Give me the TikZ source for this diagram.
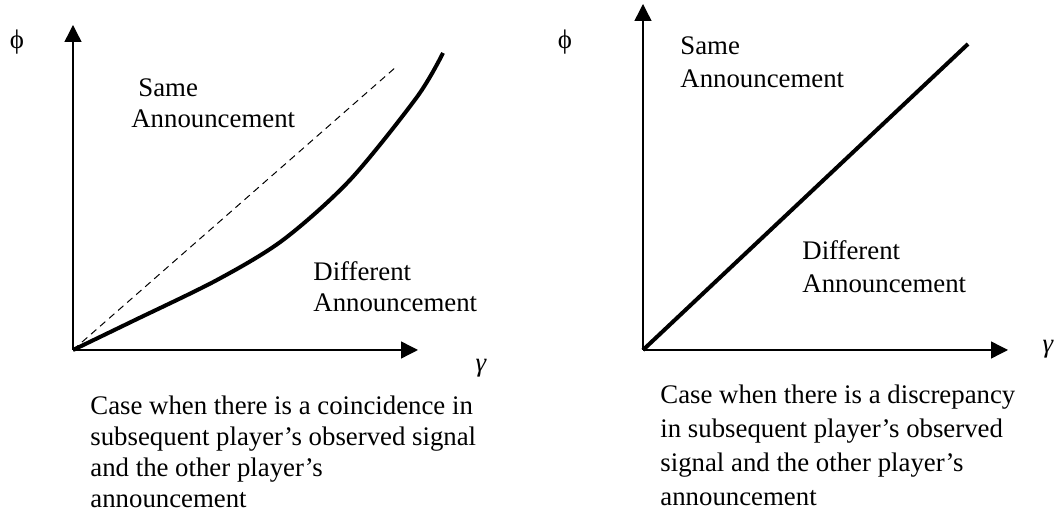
\documentclass[tikz,border=0pt]{standalone}
\usepackage{fontspec}
\setmainfont{Liberation Serif}
\usetikzlibrary{arrows.meta}
\tikzset{>=latex}

\begin{document}
\begin{tikzpicture}
                [x=0.5pt,y=-0.5pt,
                 every node/.style={inner sep=0pt,font=\fontsize{13.4}{16}\selectfont},
                 lbl/.style={anchor=base west},
                 axis/.style={line width=0.7pt,-{Triangle[length=8.5pt,width=8.5pt]}},
                 border/.style={line width=2pt},
                 guide/.style={line width=0.5pt,dash pattern=on 3.5pt off 2.5pt}]
                \useasboundingbox (0,0) rectangle (1056,512);

                % left picture
                \coordinate (o1) at (73,350);
                \coordinate (y1) at (73,25);
                \coordinate (x1) at (418,350);
                \coordinate (d1) at (396,67);
                \draw[axis] (o1) -- (y1);
                \draw[axis] (o1) -- (x1);
                \node (phi1) at (17,42) {ϕ};
                \node[font=\fontsize{13.4}{16}\selectfont\itshape] (gam1) at (481,368) {γ};
                \draw[guide] (o1) -- (d1);
                \draw[border] plot[smooth] coordinates {(o1) (133,321) (217,280) (283,240) (350,180) (417,97) (443,53)};

                \node[lbl] (same1) at (138,97) {Same};
                \node[lbl] (ann1) at (131,128) {Announcement};
                \node[lbl] (diff1) at (313,281) {Different};
                \node[lbl] (ann2) at (313,312) {Announcement};

                \foreach \txt [count=\i] in {Case when there is a coincidence in,
                    subsequent player’s observed signal,and the other player’s,announcement}
                    \node[lbl] (capl\i) at (90,{415+31*(\i-1)}) {\txt};

                % right picture
                \coordinate (o2) at (643,350);
                \coordinate (y2) at (643,4);
                \coordinate (x2) at (1008,350);
                \coordinate (e2) at (968,44);
                \draw[axis] (o2) -- (y2);
                \draw[axis] (o2) -- (x2);
                \node (phi2) at (565,42) {ϕ};
                \node[font=\fontsize{13.4}{16}\selectfont\itshape] (gam2) at (1048,349) {γ};
                \draw[border] (o2) -- (e2);

                \node[lbl] (same2) at (680,55) {Same};
                \node[lbl] (ann3) at (680,88) {Announcement};
                \node[lbl] (diff2) at (802,260) {Different};
                \node[lbl] (ann4) at (802,293) {Announcement};

                \foreach \txt [count=\i] in {Case when there is a discrepancy,
                    in subsequent player’s observed,signal and the other player’s,announcement}
                    \node[lbl] (capr\i) at (660,{404+33.7*(\i-1)}) {\txt};
            \end{tikzpicture}
\end{document}
